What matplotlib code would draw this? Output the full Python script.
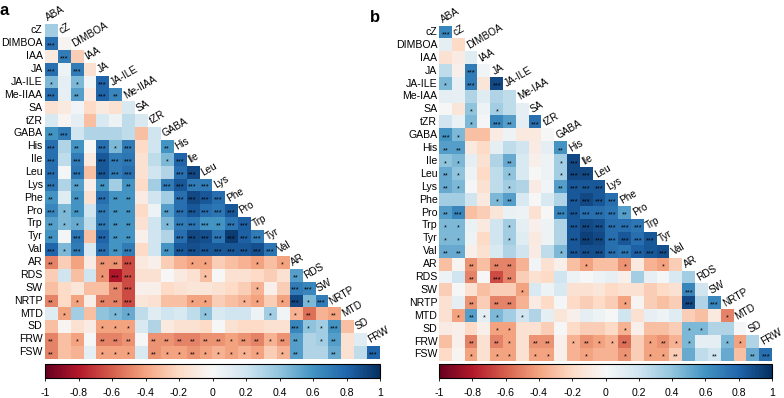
import numpy as np
import matplotlib.pyplot as plt

plt.rcParams['font.family'] = ['Liberation Sans', 'DejaVu Sans']

names_a = ['ABA', 'cZ', 'DIMBOA', 'IAA', 'JA', 'JA-ILE', 'Me-IIAA', 'SA', 'tZR',
           'GABA', 'His', 'Ile', 'Leu', 'Lys', 'Phe', 'Pro', 'Trp', 'Tyr', 'Val',
           'AR', 'RDS', 'SW', 'NRTP', 'MTD', 'SD', 'FRW', 'FSW']
names_b = ['ABA', 'cZ', 'DIMBOA', 'IAA', 'JA', 'JA-ILE', 'Me-IAA', 'SA', 'tZR',
           'GABA', 'His', 'Ile', 'Leu', 'Lys', 'Phe', 'Pro', 'Trp', 'Tyr', 'Val',
           'AR', 'RDS', 'SW', 'NRTP', 'MTD', 'SD', 'FRW', 'FSW']

# lower triangle, one list per row (row i = names[i+1], columns names[0..i])
corr_a = [
    [0.35],
    [0.75, -0.03],
    [-0.1, 0.7, -0.25],
    [0.75, 0.05, 0.7, -0.15],
    [0.45, 0.1, 0.45, 0.03, 0.8],
    [0.75, 0.08, 0.55, -0.08, 0.8, 0.65],
    [-0.15, -0.1, 0.03, -0.2, -0.1, -0.15, 0.15],
    [0.15, -0.03, 0.1, -0.3, 0.15, 0.05, 0.25, 0.15],
    [0.6, 0.7, 0.2, 0.3, 0.3, 0.3, 0.25, -0.3, 0.2],
    [0.75, 0.3, 0.6, 0.0, 0.75, 0.45, 0.7, -0.2, 0.2, 0.6],
    [0.75, 0.25, 0.7, -0.1, 0.85, 0.7, 0.72, -0.15, 0.25, 0.45, 0.8],
    [0.75, 0.02, 0.72, -0.3, 0.85, 0.7, 0.75, -0.15, 0.2, 0.3, 0.75, 0.9],
    [0.72, 0.3, 0.55, -0.05, 0.6, 0.35, 0.6, -0.2, 0.35, 0.7, 0.85, 0.7, 0.7],
    [0.6, 0.12, 0.6, -0.15, 0.75, 0.6, 0.6, -0.08, 0.2, 0.35, 0.75, 0.9, 0.85, 0.75],
    [0.65, 0.45, 0.6, 0.2, 0.7, 0.6, 0.6, -0.2, 0.05, 0.55, 0.75, 0.85, 0.75, 0.72, 0.85],
    [0.55, 0.45, 0.5, 0.25, 0.7, 0.6, 0.6, -0.15, 0.2, 0.45, 0.7, 0.72, 0.6, 0.6, 0.72, 0.82],
    [0.6, 0.02, 0.72, -0.3, 0.8, 0.6, 0.6, -0.05, 0.2, 0.3, 0.75, 0.9, 0.88, 0.72, 0.95, 0.82, 0.7],
    [0.8, 0.45, 0.7, 0.15, 0.75, 0.6, 0.7, -0.2, 0.2, 0.6, 0.85, 0.88, 0.85, 0.85, 0.85, 0.85, 0.88, 0.72],
    [-0.5, -0.25, -0.4, -0.08, -0.45, -0.45, -0.65, -0.1, -0.05, -0.25, -0.35, -0.4, -0.4, -0.25,
     -0.3, -0.35, -0.4, -0.3, -0.4],
    [-0.25, 0.2, -0.3, 0.2, -0.45, -0.8, -0.65, -0.15, -0.15, 0.0, -0.1, -0.15, -0.3, 0.0,
     -0.15, -0.15, -0.2, -0.25, -0.15, 0.55],
    [-0.3, -0.2, -0.12, -0.3, -0.3, -0.5, -0.65, -0.05, -0.05, -0.2, -0.15, -0.12, -0.12, -0.15,
     -0.2, -0.25, -0.35, -0.05, -0.25, 0.7, 0.65],
    [-0.5, -0.2, -0.4, -0.07, -0.5, -0.5, -0.65, -0.12, -0.15, -0.3, -0.3, -0.4, -0.4, -0.25,
     -0.3, -0.35, -0.4, -0.25, -0.4, 0.9, 0.45, 0.7],
    [0.12, -0.4, 0.35, -0.3, 0.4, 0.45, 0.5, 0.25, 0.12, 0.2, 0.15, 0.25, 0.4, 0.15,
     0.2, 0.2, 0.05, 0.35, 0.03, -0.35, -0.55, -0.35, -0.4],
    [-0.3, -0.03, -0.15, -0.08, -0.4, -0.4, -0.4, 0.15, 0.3, -0.1, -0.15, -0.15, -0.2, 0.0,
     -0.15, -0.2, -0.2, -0.15, -0.15, 0.65, 0.4, 0.35, 0.6, -0.3],
    [-0.5, -0.3, -0.4, 0.0, -0.5, -0.5, -0.45, 0.0, -0.45, -0.45, -0.5, -0.5, -0.45, -0.45,
     -0.4, -0.45, -0.5, -0.35, -0.45, 0.55, 0.3, 0.35, 0.55, -0.15, 0.12],
    [-0.5, -0.3, -0.35, 0.1, -0.4, -0.4, -0.4, 0.15, -0.45, -0.4, -0.4, -0.45, -0.4, -0.35,
     -0.4, -0.35, -0.4, -0.25, -0.35, 0.55, 0.3, 0.3, 0.5, -0.15, 0.25, 0.8],
]
# number of significance stars per cell
stars_a = [
    "0", "30", "030", "3030", "10103", "302032", "0000000", "00000000",
    "230000000", "3020313002", "30303330013", "303033300033", "3020202003333",
    "20203220003333", "312032200233333", "2110322001333233", "20303220003333333",
    "313032300233333333", "2000223000011000101", "00001330000010000002",
    "000002300000000010033", "2010223000011001101313", "01000110000010000101202",
    "000011100000000000031130", "2010222022222212212201200",
    "20001110211211111012002003",
]

corr_b = [
    [0.65],
    [0.1, -0.2],
    [-0.15, -0.08, 0.12],
    [0.25, -0.05, 0.7, 0.03],
    [0.45, 0.08, 0.7, -0.12, 0.9],
    [0.1, 0.08, 0.3, 0.12, 0.3, 0.25],
    [0.0, -0.12, 0.4, 0.05, 0.35, 0.25, 0.1],
    [0.2, 0.07, 0.45, 0.02, 0.65, 0.55, 0.1, 0.75],
    [0.6, 0.45, -0.3, -0.3, -0.08, 0.05, -0.1, -0.1, 0.0],
    [0.55, 0.55, -0.1, -0.2, 0.1, 0.25, 0.2, -0.08, 0.1, 0.6],
    [0.4, 0.45, 0.1, -0.15, 0.3, 0.5, 0.15, -0.05, 0.05, 0.35, 0.9],
    [0.5, 0.4, 0.05, -0.2, 0.25, 0.4, 0.15, 0.0, 0.05, 0.35, 0.9, 0.9],
    [0.5, 0.45, 0.02, -0.15, 0.25, 0.35, 0.3, -0.08, 0.03, 0.55, 0.85, 0.85, 0.85],
    [0.35, 0.35, 0.2, -0.1, 0.45, 0.55, 0.15, 0.0, 0.15, 0.3, 0.85, 0.9, 0.85, 0.75],
    [0.55, 0.65, -0.3, -0.25, -0.12, 0.07, 0.05, -0.15, 0.0, 0.65, 0.85, 0.75, 0.75, 0.72, 0.55],
    [0.45, 0.45, 0.07, -0.1, 0.2, 0.35, 0.1, -0.05, 0.05, 0.3, 0.85, 0.9, 0.88, 0.75, 0.75, 0.72],
    [0.45, 0.45, 0.05, -0.2, 0.2, 0.35, 0.12, -0.1, 0.05, 0.3, 0.85, 0.93, 0.9, 0.75, 0.85, 0.75, 0.85],
    [0.5, 0.5, -0.05, -0.15, 0.15, 0.3, 0.2, -0.08, 0.25, 0.45, 0.85, 0.88, 0.88, 0.75, 0.72, 0.82, 0.85, 0.88],
    [-0.3, -0.03, -0.45, -0.3, -0.5, -0.5, -0.35, 0.03, -0.15, -0.05, -0.3, -0.4, -0.3, -0.3,
     -0.45, -0.1, -0.35, -0.4, -0.25],
    [0.05, 0.2, -0.5, 0.0, -0.65, -0.5, -0.25, -0.15, -0.2, 0.2, 0.05, 0.0, 0.05, 0.08,
     -0.05, 0.35, 0.08, 0.02, 0.15, 0.35],
    [-0.25, 0.0, -0.15, -0.3, -0.25, -0.25, -0.4, 0.15, 0.05, 0.15, -0.15, -0.15, -0.12, -0.2,
     -0.15, -0.15, -0.25, -0.2, -0.15, 0.65, 0.2],
    [-0.15, 0.1, -0.45, -0.25, -0.5, -0.5, -0.35, -0.08, -0.2, 0.02, -0.2, -0.25, -0.2, -0.25,
     -0.4, -0.03, -0.25, -0.3, -0.25, 0.9, 0.3, 0.65],
    [-0.15, -0.4, 0.55, 0.1, 0.45, 0.35, 0.2, 0.3, 0.1, -0.12, -0.05, 0.1, 0.05, 0.0,
     0.2, -0.15, 0.08, 0.05, 0.12, -0.25, -0.3, -0.1, -0.5],
    [-0.08, -0.05, -0.2, -0.05, -0.4, -0.4, -0.15, -0.15, -0.25, 0.0, -0.2, -0.25, -0.25, -0.2,
     -0.35, -0.05, -0.3, -0.3, -0.25, 0.45, 0.45, 0.3, 0.3, 0.02],
    [-0.3, -0.05, -0.5, -0.15, -0.5, -0.4, -0.15, -0.45, -0.45, -0.05, -0.35, -0.45, -0.4, -0.35,
     -0.55, -0.25, -0.4, -0.45, -0.35, 0.45, 0.1, 0.1, 0.45, -0.4, 0.3],
    [-0.2, -0.03, -0.4, -0.15, -0.4, -0.4, -0.15, -0.4, -0.4, -0.05, -0.35, -0.4, -0.35, -0.35,
     -0.45, -0.25, -0.4, -0.4, -0.25, 0.5, 0.25, 0.2, 0.5, -0.3, 0.5, 0.75],
]
stars_b = [
    "3", "00", "000", "0030", "10303", "000000", "0010100", "00103203",
    "310000000", "2200000002", "11000200013", "210001000133", "2100010002333",
    "00001200003333", "230000000333332", "1100010000333333", "11000100003333333",
    "220000000133333333", "0020220000010010010", "00203200000000000000",
    "000000100000000000030", "0020220000000010000303", "01211010000000000000001",
    "000011000000001000011000", "0020210220121120121100110",
    "00101101100100101120020023",
]

cbar_ticks = [-1, -0.8, -0.6, -0.4, -0.2, 0, 0.2, 0.4, 0.6, 0.8, 1]
cbar_labels = ['-1', '-0.8', '-0.6', '-0.4', '-0.2', '0', '0.2', '0.4', '0.6', '0.8', '1']

W, H = 784, 398


def tri_matrix(rows):
    n = len(rows)
    m = np.full((n, n), np.nan)
    for r, vals in enumerate(rows):
        m[r, :len(vals)] = vals
    return np.ma.masked_invalid(m)


def px_rect(x0, y0, x1, y1):
    return [x0 / W, 1 - y1 / H, (x1 - x0) / W, (y1 - y0) / H]


def draw_panel(fig, rect, cbar_rect, names, corr, stars):
    ax = fig.add_axes(rect)
    m = tri_matrix(corr)
    n = m.shape[0]
    im = ax.imshow(m, cmap='RdBu', vmin=-1, vmax=1, extent=(0, n, n, 0),
                   aspect='auto', interpolation='nearest')
    ax.set_xlim(0, n)
    ax.set_ylim(n, 0)
    ax.axis('off')
    for r in range(n):
        ax.text(-0.15, r + 0.5, names[r + 1], ha='right', va='center', fontsize=7.6)
        # diagonal labels sit on top of each column's first cell
        ax.text(r + 0.3, r - 0.2, names[r], rotation=30, rotation_mode='anchor',
                ha='left', va='baseline', fontsize=7.2)
        for c, s in enumerate(stars[r]):
            if s != '0':
                ax.text(c + 0.5, r + 0.81, '*' * int(s), ha='center', va='baseline',
                        fontsize=5.2, color='black')

    cax = fig.add_axes(cbar_rect)
    cb = fig.colorbar(im, cax=cax, orientation='horizontal')
    cb.set_ticks(cbar_ticks)
    cb.set_ticklabels(cbar_labels)
    cax.tick_params(length=2.2, width=0.6, pad=5, labelsize=7.6)
    cb.outline.set_linewidth(0.8)
    return ax


fig = plt.figure(figsize=(W / 100, H / 100), dpi=100)

draw_panel(fig, px_rect(44.6, 24, 379.2, 358.6), px_rect(45, 364, 380, 378),
           names_a, corr_a, stars_a)
draw_panel(fig, px_rect(439.3, 25.5, 772.1, 360.9), px_rect(439, 364, 772, 378),
           names_b, corr_b, stars_b)

fig.text(0 / W, 1 - 15 / H, 'a', fontsize=12, fontweight='bold', ha='left', va='baseline')
fig.text(370 / W, 1 - 22 / H, 'b', fontsize=12, fontweight='bold', ha='left', va='baseline')

fig.savefig('out.png', dpi=100)
